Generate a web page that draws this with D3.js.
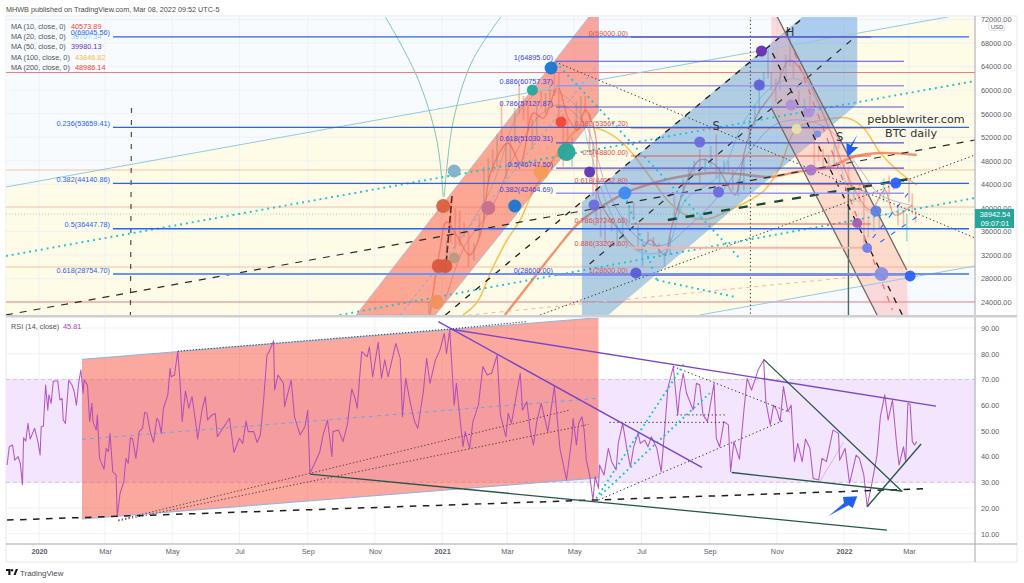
<!DOCTYPE html>
<html><head><meta charset="utf-8">
<script src="https://cdn.jsdelivr.net/npm/d3@7"></script>
<style>html,body{margin:0;padding:0;background:#fff}svg{display:block}text{font-family:"Liberation Sans",sans-serif}</style>
</head><body><svg id="c" width="1024" height="583"></svg>
<script>
// ---------- data: days since 2020-01-01, prices in USD, RSI in points ----------
const priceTicks=[24000,28000,32000,36000,40000,44000,48000,52000,56000,60000,64000,68000,72000];
const rsiTicks=[10,20,30,40,50,60,70,80,90];
const timeTicks=["2020-01-01","2020-03-01","2020-05-01","2020-07-01","2020-09-01","2020-11-01","2021-01-01","2021-03-01","2021-05-01","2021-07-01","2021-09-01","2021-11-01","2022-01-01","2022-03-01"];
const maLegendNames=["MA (10, close, 0)","MA (20, close, 0)","MA (50, close, 0)","MA (100, close, 0)","MA (200, close, 0)"];
const maLegendValues=["40573.89","39707.34","39980.13","43846.82","48986.14"];
const fibALabels=["0(69045.56)","0.236(53659.41)","0.382(44140.86)","0.5(36447.78)","0.618(28754.70)"];
const fibA=[69045.56,53659.41,44140.86,36447.78,28754.70];
const fibBLabels=["1(64895.00)","0.886(60757.37)","0.786(57127.87)","0.618(51030.31)","0.5(46747.50)","0.382(42464.69)","0(28600.00)"];
const fibB=[64895,60757.37,57127.87,51030.31,46747.5,42464.69,28600];
const fibCLabels=["0(69000.00)","0.382(53567.20)","0.5(48800.00)","0.618(44032.80)","0.786(37245.60)","0.886(33205.60)","1(28600.00)"];
const fibC=[69000,53567.2,48800,44032.8,37245.6,33205.6,28600];
const paleLevels=[46430,40144,29950];
const redLevels=[62995,24003];
const lastPrice=38942.54;

const candleDays=[350,354,360,366,370,374,378,382,386,390,395,400,404,408,412,416,420,424,428,432,436,440,444,448,452,456,460,464,468,472,476,480,484,488,492,496,500,503,506,510,514,520,525,530,536,540,544,548,553,558,563,568,573,577,581,585,590,595,600,605,610,615,618,622,626,630,635,640,645,650,654,658,662,665,669,673,678,682,685,690,695,700,704,708,712,717,722,726,731,735,740,745,749,753,758,763,767,772,776,780,785,788,790,793,796];
const candleLows=[19500,22000,23000,28900,30000,34000,33000,33500,35000,30000,31000,35000,38000,44000,46000,47000,52000,45000,47000,51000,56000,55000,53000,50000,52000,57000,56000,58000,59000,55000,47000,48000,47000,53000,55000,56000,49000,42000,37000,35000,34000,36000,33500,35000,37000,38000,33000,30000,34000,33000,32000,30000,32000,38000,39000,42000,44000,46000,44000,46000,47000,45000,44000,46000,46000,43000,42000,43000,50000,54000,56000,60000,62000,60000,58000,60000,62000,64000,62000,58000,55000,56000,46000,48000,46500,46500,47000,50000,46500,41000,41000,41000,34000,35000,36000,36500,41000,42000,43000,37000,37000,34300,41000,39000,37500];
const candleHighs=[21500,24000,25000,30000,34500,41000,40000,39500,37500,36000,34000,38500,47000,48500,50000,52500,58000,51000,52000,57000,61000,59000,58000,55000,58000,60000,59500,61000,64895,63000,56000,55000,52000,58000,59000,59000,56000,51000,44000,40000,38500,38000,37000,38500,40500,41000,37000,34000,36000,35000,34000,32500,35000,42000,41000,45000,47000,48000,50000,48500,50500,52500,47000,48000,48000,46500,45000,48500,55000,57500,62000,63000,67000,63000,62000,64000,66000,69000,65000,60000,58500,59000,53500,51000,50000,49000,51000,51500,48000,47000,43500,44000,43000,38000,38500,39000,45000,45500,44500,40500,39500,39000,45000,42500,39500];

const ma10=[[355,21794],[364,32838],[370,37595],[380,35046],[391,31989],[402,36236],[410,45920],[426,51017],[437,47619],[449,56114],[458,55265],[471,60532],[480,55435],[489,53226],[496,56624],[505,52717],[509,41333],[523,37085],[546,32838],[555,34537],[568,31989],[575,37085],[600,48129],[614,47279],[623,44730],[632,42182],[641,49828],[652,55775],[668,60022],[682,65119],[700,60872],[718,53226],[736,44730],[755,39634],[768,43032],[777,38784],[793,40483]];
const ma20=[[382,34537],[410,43032],[437,56624],[459,60022],[487,57473],[500,49828],[518,39634],[541,32838],[568,32838],[587,41333],[618,45580],[641,54925],[668,60872],[691,61722],[718,53226],[736,43032],[759,38784],[786,39974]];
const ma50=[[369,24343],[387,33688],[410,39634],[432,48978],[455,55775],[473,57473],[496,54075],[505,49828],[518,42182],[546,34537],[568,33688],[591,37085],[618,42182],[646,49828],[668,54075],[691,54925],[718,53226],[746,46430],[764,42182],[791,40483]];
const ma100=[[385,21794],[398,24003],[411,29440],[425,34537],[437,37935],[449,43032],[455,44730],[473,49828],[491,53566],[509,53396],[530,51017],[555,45240],[573,40823],[591,38444],[607,38105],[627,39634],[646,41333],[659,43032],[673,46940],[688,53566],[712,54925],[734,55265],[748,53736],[764,49318],[779,46430],[797,43881]];
const ma200=[[423,21794],[443,26551],[467,32328],[491,37595],[516,40823],[539,43032],[576,45071],[609,45920],[636,45750],[664,45240],[688,46090],[718,46940],[739,48639],[764,49318],[797,48978]];

const bandPoly=[[-30,43542],[850,73274],[850,30120],[600,21794],[-30,21794]];
const bandTop=[[-30,43542],[850,73274]];
const bandBottom=[[600,21794],[850,30120]];
const redChannel=[[288,21794],[500,72595],[508,72595],[508,56284],[360,21794]];
const redCenter=[[328,21794],[507,64269]];
const blueChannel=[[493,40993],[694,72595],[743,72595],[743,57643],[517,21794],[493,21794]];
const pinkChannel=[[665,72595],[670,72595],[788,29440],[789,21794],[761,21794],[665,56964]];
const pinkUpper=[[670,72595],[788,29440]];
const pinkLower=[[665,56964],[761,21794]];
const pinkBlack=[[666,66308],[784,21794]];
const pinkRed=[[686,66308],[775,22644]];
const tealA=[[-30,31819],[850,61551]];
const tealB=[[273,21794],[850,41673]];
const tealC=[[469,64779],[635,31649]];
const tealD=[[532,42183],[561,27741]];
const tealE=[[561,27741],[632,24854]];
const dashLong=[[-30,21794],[850,51527]];
const dashThick=[[571,37935],[795,45071]];
const dashSteepA=[[369,21794],[696,72595]];
const dashSteepB=[[500,30460],[741,69027]];
const dottedDown=[[469,64779],[850,34877]];
const dottedUp=[[455,21794],[850,48978]];
const vDashed=[[84,56964],[83,21794]];
const vDotted=[[646,72595],[646,21794]];
const vGreen=[[735,21794],[735,43202],[747,43202]];
const paleDash=[[382,21625],[739,28251]];
const brownDash=[[375,42011],[369,29000]];
const blueDashA=[[757,34877],[793,43372]];
const blueDashB=[[764,34197],[797,38444]];
const arcLeft=[[314,72595],[343,62400],[361,51700],[367,41900]];
const arcRight=[[420,72595],[393,64800],[376,54600],[368,41900]];
const priceArrow=[[743,52376],[738,50338],[744,50338],[734,48639],[733,51017],[737,50678]];
const bubbles=[[377,46260],[367,40313],[377,31479],[363,30120],[369,30120],[361,24003],[408,39974],[432,40313],[465,63760],[448,60022],[474,54585],[479,49488],[456,46090],[500,46090],[504,40483],[532,42523],[542,28931],[600,51187],[617,42692],[656,66648],[654,60872],[683,57473],[699,56284],[707,52547],[701,46430],[688,53396],[778,44221],[760,39464],[743,37426],[752,33178],[765,28761],[791,28421]];
const bubbleR=[6.5,7,5.5,7,7,7,7,6.5,6.5,5.5,5.5,9,7.5,5.5,5.5,6.5,5.5,5.5,5.5,5.5,5.5,5.5,5.5,3.5,5.5,5,5.5,5.5,5,5,7,5.5];
const bubbleC=["#7fb0c8","#d9603f","#b89a80","#d9583c","#d9583c","#f0935a","#c8708a","#1976d2","#1976d2","#26a69a","#f44336","#26a69a","#f49a5a","#5e35b1","#6a6adf","#3d8af0","#5c5cd6","#6a6adf","#6a6adf","#6a2cb0","#6060d8","#b090d8","#b090d8","#8090e0","#a878c8","#eadfae","#2962ff","#5c80e0","#a060b0","#7080e8","#8890e0","#2962ff"];
const labelsHS=[["H",682,69876],["S",615,53736],["S",727,51867]];

const rsiDays=[-29,-27,-24,-22,-19,-17,-15,-14,-12,-10,-8,-4,-1,1,2,4,6,8,9,11,13,17,19,21,22,24,27,30,32,34,36,38,40,41,44,46,48,49,52,53,55,59,61,63,64.5,67,70,71,73.6,77,79,81,83,85,88,91,94,96,98,101,104,107,109,111,113,117,119,120,123,126,128,130,133,136,139,143,144,148,151,153,157,160,162,167,173,177,182,185,188,190,195,198,201,204,207,209,213,214,217,222,223,229,232,237,241.5,244,246,251,255,258,262,266,267,272,276,280,284,287,289,293,298,300,303,308,311,314,317,324,328,330,333,337,341,344,349,352,355,360,364,368,370,373,377,379,381,385,387,391,394,399,403,407,411,416,419,424,426,429,434,437,439,443,446,449,452,456,462,468,470,473,479,484,485,488,490,493,495,497,500,503,505,508,509,513,517,520,524,526,530,534,537,540,544,546,550,553,556,561,565,568,571,576,580,582,585,588,594,597,600,603,607,613,615,618,622,626,628,631,636,640,643,647,651,653,658,660,664,667,670,673,676,680,683,685,686,689,693,696,700,703,708,711,715,721,726,727,732,736,742,745,749,752,756,761,764,768,771,775,779,781,785,787,789,791,793,795,797];
const rsiValues=[36.7,43.8,44.5,38.6,40,37.4,29,47.3,46,52.9,46.8,51,45.8,40.6,51.6,51.9,67.8,58,64,60.7,69.4,69.4,62,62.6,54.2,52.9,69.8,67.8,65.2,60,68.5,73.7,64.6,69.8,67.8,53.6,60.7,53.6,50.3,56.2,39.3,35.1,43.2,41.9,49,34.1,32.8,16.6,25.7,30.2,39.3,37.4,47.3,46.8,39.3,49.7,51,57.2,56.8,49.7,45.5,54.9,53.6,49,58.8,64,74.3,71,71.7,80.8,69.8,53.6,65.5,58.8,63.3,51,46.8,58,63.3,54.2,56.2,56.8,47.7,51,54.9,41.6,47.1,45.1,53.8,49.7,49.7,45.5,48.4,62,79.5,80.8,85,65.9,71.7,68.5,59.4,69.8,55.5,48.4,51.6,58,33.5,38,41.9,48.4,54.2,40,49.7,50.3,45.8,52.3,66.3,62.6,58.8,80.8,78.8,82.7,71,84.4,70.4,77.6,71,84,78.2,55.5,70.4,61.3,53.6,51,65.2,78.2,68.5,77.6,81.4,87.9,80.1,89.2,60,68.5,60,43.8,49.7,43.2,53.6,60,75,71.7,72.4,79.5,56.2,47.7,56.8,52.9,65.2,72.4,58,61.3,50.3,44.5,53.6,60.7,49.7,67.2,57.5,43.2,30.9,47.7,54.9,44.5,52.9,55.5,50.3,38.6,32.8,23.1,32.2,27.6,36.7,32.8,43.2,38,34.8,45.1,52.9,42.6,36,43.8,49,45.1,46.4,43.8,47.7,43.2,34.1,49.7,66.5,75,56.2,65.2,72.4,64.6,58.1,68.5,67.8,56.2,53.6,68.5,47.1,43.8,53.6,52.3,34.1,45.8,39,57.5,70.4,65.9,71,73.7,77.6,61.3,52.3,60,58.1,53.6,67.2,57.5,60,45.1,38,45.1,38,46.8,43.2,31.5,30.9,39.3,38,50.3,49,38.6,43.2,29.6,40.6,39.3,32.8,20.5,28.9,40.6,55.5,64,54.2,62,43.8,36.7,43.8,38,60.7,60.3,45.8,44.5,45.81];
const rsiRedChannel=[[39,77.8],[508,94],[508,31.7],[39,15.7]];
const rsiChanTop=[[39,77.8],[508,94]];
const rsiChanBottom=[[39,15.7],[508,31.7]];
const rsiCenter=[[39,46.7],[506,62.6]];
const rsiDashed=[[-29,15.3],[805,27.5]];
const rsiDotTop=[[126,81],[373,89.6],[443,92.5]];
const rsiDotA=[[72,15.3],[482,58.1]];
const rsiDotB=[[72,15],[499,52.5]];
const rsiGreenLines=[[[246,33.2],[770,11.4]],[[629,33.8],[783,26.6]],[[658,77.8],[784,26.3]],[[752,20.5],[801,44.9]]];
const rsiPurpleLines=[[[373,89.6],[814.5,59.6]],[[362.6,92.5],[602,35.8]]];
const rsiDotted=[[[576,75],[682,57.2]],[[508,23.1],[677,54.2]],[[579,56.2],[624,56.2]],[[518,53.3],[624,53.3]]];
const rsiTeal=[[[506,23.7],[587,76.9]],[[510,25],[609,64.6]]];
const rsiFaint=[[709,30.2],[730.4,45.5]];
const rsiArrow=[[743,24.6],[739,20],[735,21.1],[717,16.9],[731,21.9],[730,24.3]];
if(rsiDays.length!==rsiValues.length)throw new Error("rsi mismatch "+rsiDays.length+" "+rsiValues.length);
if(candleDays.length!==candleLows.length||candleDays.length!==candleHighs.length)throw new Error("candle mismatch");

// ---------- scales ----------
const epoch=new Date(Date.UTC(2020,0,1));
const toDate=d=>new Date(+epoch+d*864e5);
const L=6,R=975,PT=17,PB=315,RT=318,RB=544,FS=7.3;
const x=d3.scaleUtc().domain([toDate(0),new Date("2022-03-01T00:00:00Z")]).range([39,909]);
const yP=d3.scaleLinear().domain([24000,72000]).range([302,19.5]);
const yR=d3.scaleLinear().domain([10,90]).range([533.7,328]);

const svg=d3.select("#c");
const defs=svg.append("defs");
defs.append("clipPath").attr("id","cp").append("rect").attr("x",L).attr("y",PT).attr("width",R-L).attr("height",PB-PT);
defs.append("clipPath").attr("id","cr").append("rect").attr("x",L).attr("y",RT).attr("width",R-L).attr("height",RB-RT);

const lineP=d3.line().x(d=>x(toDate(d[0]))).y(d=>yP(d[1]));
const lineR=d3.line().x(d=>x(toDate(d[0]))).y(d=>yR(d[1]));

// ---------- frame and text ----------
svg.append("text").attr("x",6).attr("y",12).attr("font-size",7.25).attr("fill","#4a4a4a").text("MHWB published on TradingView.com, Mar 08, 2022 09:52 UTC-5");
svg.append("rect").attr("x",6).attr("y",16).attr("width",1011).attr("height",546).attr("fill","#fff").attr("stroke","#e6e9f0");

// ---------- top pane ----------
const pane=svg.append("g").attr("clip-path","url(#cp)");
pane.append("rect").attr("x",L).attr("y",PT).attr("width",R-L).attr("height",PB-PT).attr("fill","#f7fbfe");
pane.append("path").attr("d",lineP(bandPoly)+"Z").attr("fill","#fefce6");
const grid=pane.append("g").attr("stroke","#eef1f6").attr("stroke-width",1);
grid.selectAll("line.h").data(priceTicks).join("line").attr("class","h").attr("x1",L).attr("x2",R).attr("y1",d=>yP(d)).attr("y2",d=>yP(d));
grid.selectAll("line.v").data(timeTicks).join("line").attr("class","v").attr("y1",PT).attr("y2",PB).attr("x1",d=>x(new Date(d))).attr("x2",d=>x(new Date(d)));
// horizontal levels
pane.selectAll("line.pale").data(paleLevels).join("line").attr("class","pale").attr("x1",L).attr("x2",R).attr("y1",d=>yP(d)).attr("y2",d=>yP(d)).attr("stroke","#f6c2a8").attr("stroke-width",1.1);
pane.selectAll("line.red").data(redLevels).join("line").attr("class","red").attr("x1",L).attr("x2",R).attr("y1",d=>yP(d)).attr("y2",d=>yP(d)).attr("stroke","#ea8080").attr("stroke-width",1);
pane.append("line").attr("x1",L).attr("x2",R).attr("y1",yP(lastPrice)).attr("y2",yP(lastPrice)).attr("stroke","#26a69a").attr("stroke-width",.8).attr("stroke-dasharray","1 2").attr("opacity",.6);

// candles
pane.selectAll("line.cd").data(candleDays).join("line").attr("class","cd")
 .attr("x1",d=>x(toDate(d))).attr("x2",d=>x(toDate(d)))
 .attr("y1",(d,i)=>yP(candleLows[i])).attr("y2",(d,i)=>yP(candleHighs[i]))
 .attr("stroke",(d,i)=>(i<candleHighs.length-1&&candleHighs[i+1]>=candleHighs[i])?"#26a69a":"#ef5350")
 .attr("stroke-width",1.7).attr("opacity",.36);

// moving averages
const curve=d3.curveCatmullRom.alpha(.5);
const maLine=d3.line().x(d=>x(toDate(d[0]))).y(d=>yP(d[1])).curve(curve);
pane.append("path").attr("d",maLine(ma50)).attr("fill","none").attr("stroke","#8e6fc9").attr("stroke-width",1).attr("opacity",.5);
pane.append("path").attr("d",maLine(ma20)).attr("fill","none").attr("stroke","#6fd2e6").attr("stroke-width",1).attr("opacity",.7);
pane.append("path").attr("d",maLine(ma100)).attr("fill","none").attr("stroke","#f9c25a").attr("stroke-width",1.6);
pane.append("path").attr("d",maLine(ma200)).attr("fill","none").attr("stroke","#f0805a").attr("stroke-width",2.4).attr("opacity",.85);
pane.append("path").attr("d",maLine(ma10)).attr("fill","none").attr("stroke","#ee5f45").attr("stroke-width",1.4).attr("opacity",.6);

// channels
pane.append("path").attr("d",lineP(redChannel)+"Z").attr("fill","rgba(247,91,73,.53)").attr("stroke","#9ab0d6").attr("stroke-width",.6);
pane.append("path").attr("d",lineP(blueChannel)+"Z").attr("fill","rgba(60,135,220,.4)");
pane.append("path").attr("d",lineP(pinkChannel)+"Z").attr("fill","rgba(255,150,150,.33)");

// trend lines
const seg=(g,pts,col,w,dash,op)=>g.append("path").attr("d",lineP(pts)).attr("fill","none").attr("stroke",col).attr("stroke-width",w).attr("stroke-dasharray",dash||null).attr("opacity",op||1);
seg(pane,bandTop,"#93c9e6",1);seg(pane,bandBottom,"#93c9e6",1);
seg(pane,redCenter,"#7ea6e0",.9,"3 3");
pane.append("path").attr("d",maLine(arcLeft)).attr("fill","none").attr("stroke","#86c4b4").attr("stroke-width",1);
pane.append("path").attr("d",maLine(arcRight)).attr("fill","none").attr("stroke","#86c4b4").attr("stroke-width",1);
seg(pane,vDashed,"#222",1.2,"5 7",.8);
seg(pane,vDotted,"#333",1,"1.3 2.6");
seg(pane,vGreen,"#4a6a64",1.4);
seg(pane,paleDash,"#f7b59c",1,"4 4");
seg(pane,dashLong,"#2b2b2b",1.2,"7 7");
seg(pane,dashThick,"#174a3c",2.4,"9 9");
seg(pane,dashSteepA,"#1b1b1b",1.3,"6 7");
seg(pane,dashSteepB,"#2b2b2b",1.2,"6 7");
seg(pane,dottedDown,"#333",1,"1.3 2.6");
seg(pane,dottedUp,"#333",1,"1.3 2.6");
[tealA,tealB,tealC,tealD,tealE].forEach(p=>seg(pane,p,"#19c3d6",1.9,"1.9 4"));
seg(pane,brownDash,"#5e2a1e",1.6,"7 3");
seg(pane,blueDashA,"#2962ff",1.1,"5 8");
seg(pane,blueDashB,"#2962ff",1.1,"5 8");
seg(pane,pinkBlack,"#1c1c1c",1.3,"6 7");
seg(pane,pinkRed,"#f07070",1.3,"6 7");
seg(pane,pinkUpper,"#6e6868",1.3);seg(pane,pinkLower,"#6e6868",1.3);

// fibonacci levels
const xA0=113,xA1=969,xB0=556,xB1=904,xC0=631,xC1=871;
fibC.forEach((v,i)=>pane.append("line").attr("x1",xC0).attr("x2",xC1).attr("y1",yP(v)).attr("y2",yP(v)).attr("stroke",i==5?"#f5b3a8":"#e25a5a").attr("stroke-width",i==5?2:1.1));
fibB.forEach((v,i)=>pane.append("line").attr("x1",xB0).attr("x2",xB1).attr("y1",yP(v)).attr("y2",yP(v)).attr("stroke",(i==5||i==1)?"#9a96ee":"#5050e4").attr("stroke-width",(i==5||i==1)?1.5:1.1));
fibA.forEach((v,i)=>pane.append("line").attr("x1",xA0).attr("x2",xA1).attr("y1",yP(v)).attr("y2",yP(v)).attr("stroke",i==4?"#6f93f5":"#2962f5").attr("stroke-width",i==4?2.2:1.3));

// bubbles
pane.selectAll("circle.b").data(bubbles).join("circle").attr("class","b").attr("cx",d=>x(toDate(d[0]))).attr("cy",d=>yP(d[1])).attr("r",(d,i)=>bubbleR[i]).attr("fill",(d,i)=>bubbleC[i]).attr("opacity",.95);
pane.append("path").attr("d",lineP(priceArrow)+"Z").attr("fill","#1f5cf0");

pane.selectAll("text.hs").data(labelsHS).join("text").attr("class","hs").attr("x",d=>x(toDate(d[1]))).attr("y",d=>yP(d[2])).attr("text-anchor","middle").attr("dominant-baseline","middle").attr("font-size",11.5).attr("fill","#333").style("font-family","DejaVu Sans").text(d=>d[0]);

// MA legend (below the fib labels, which overprint it)
const maCols=["#f44336","#80d4f0","#5e35b1","#ffb74d","#f44336"];
maLegendNames.forEach((n,i)=>{
 const yy=28.6+i*10.4;
 svg.append("text").attr("x",11).attr("y",yy).attr("font-size",FS).attr("fill","#555").text(n);
 svg.append("text").attr("x",[71,71,71,75,75][i]).attr("y",yy).attr("font-size",FS).attr("fill",maCols[i]).text(maLegendValues[i]);
});

const fibText=(vals,labs,ex,col)=>vals.forEach((v,i)=>svg.append("text").attr("x",ex).attr("y",yP(v)-1.5).attr("text-anchor","end").attr("font-size",FS).attr("fill",col).text(labs[i]));
fibText(fibA,fibALabels,110,"#2962f5");
fibText(fibB,fibBLabels,553,"#3d3de0");
fibText(fibC,fibCLabels,628,"#e04f4f");

svg.append("text").attr("x",916).attr("y",123).attr("text-anchor","middle").attr("font-size",11.2).attr("fill","#333").style("font-family","DejaVu Sans").text("pebblewriter.com");
svg.append("text").attr("x",911).attr("y",137).attr("text-anchor","middle").attr("font-size",11.2).attr("fill","#333").style("font-family","DejaVu Sans").text("BTC daily");

// ---------- RSI pane ----------
const rp=svg.append("g").attr("clip-path","url(#cr)");
const gr=rp.append("g").attr("stroke","#eef1f6");
gr.selectAll("line.h").data(rsiTicks).join("line").attr("class","h").attr("x1",L).attr("x2",R).attr("y1",d=>yR(d)).attr("y2",d=>yR(d));
gr.selectAll("line.v").data(timeTicks).join("line").attr("class","v").attr("y1",RT).attr("y2",RB).attr("x1",d=>x(new Date(d))).attr("x2",d=>x(new Date(d)));
rp.append("rect").attr("x",L).attr("width",R-L).attr("y",yR(70)).attr("height",yR(30)-yR(70)).attr("fill","#f3e5fd");
[70,30].forEach(v=>rp.append("line").attr("x1",L).attr("x2",R).attr("y1",yR(v)).attr("y2",yR(v)).attr("stroke","#c9b6d4").attr("stroke-width",.8).attr("stroke-dasharray","4 3"));
rp.append("path").attr("d",lineR(rsiRedChannel)+"Z").attr("fill","rgba(247,91,73,.53)");
const segR=(pts,col,w,dash,op)=>rp.append("path").attr("d",lineR(pts)).attr("fill","none").attr("stroke",col).attr("stroke-width",w).attr("stroke-dasharray",dash||null).attr("opacity",op||1);
segR(rsiChanTop,"#8fb2e2",1);segR(rsiChanBottom,"#8fb2e2",1);
segR(rsiCenter,"#6aa8ec",1,"4 4");
segR(rsiDotTop,"#333",1,"1.2 1.8");
segR(rsiDotA,"#5a3a3a",1,"1.3 2.2");segR(rsiDotB,"#5a3a3a",1,"1.3 2.2");
segR(rsiFaint,"#cdbfd8",1);
rp.append("path").attr("d",lineR(rsiDays.map((d,i)=>[d,rsiValues[i]]))).attr("fill","none").attr("stroke","#ab47bc").attr("stroke-width",1.05).attr("stroke-linejoin","round").attr("opacity",.9);
segR(rsiDashed,"#1e1e1e",1.5,"6.5 6.5");
rsiDotted.forEach(p=>segR(p,"#333",1,"1.3 2.6"));
rsiTeal.forEach(p=>segR(p,"#19c3d6",1.9,"1.9 3.2"));
rsiPurpleLines.forEach(p=>segR(p,"#7b45c4",1.4));
rsiGreenLines.forEach(p=>segR(p,"#25564b",1.3));
rp.append("path").attr("d",lineR(rsiArrow)+"Z").attr("fill","#2460f0");
svg.append("text").attr("x",11).attr("y",329).attr("font-size",FS).attr("fill","#555").text("RSI (14, close)");
svg.append("text").attr("x",63).attr("y",329).attr("font-size",FS).attr("fill","#ab47bc").text("45.81");

// ---------- axes ----------
const axP=svg.append("g").attr("transform",`translate(${R},0)`).call(d3.axisRight(yP).tickValues(priceTicks).tickSize(0).tickPadding(6).tickFormat(d3.format(".2f")));
const axR=svg.append("g").attr("transform",`translate(${R},0)`).call(d3.axisRight(yR).tickValues(rsiTicks).tickSize(0).tickPadding(6).tickFormat(d3.format(".2f")));
const axT=svg.append("g").attr("transform",`translate(0,${RB})`).call(d3.axisBottom(x).tickValues(timeTicks.map(d=>new Date(d))).tickSize(0).tickPadding(5).tickFormat(d=>d.getUTCMonth()==0?d3.utcFormat("%Y")(d):d3.utcFormat("%b")(d)));
[axP,axR,axT].forEach(a=>{a.select(".domain").remove();a.selectAll("text").attr("fill","#5d606b").attr("font-size",FS).style("font-family","Liberation Sans");});
axT.selectAll("text").filter(d=>d.getUTCMonth()==0).attr("font-weight","bold");
svg.append("line").attr("x1",R).attr("x2",R).attr("y1",16).attr("y2",562).attr("stroke","#a3a6af");
svg.append("rect").attr("x",6).attr("y",315).attr("width",1011).attr("height",2.5).attr("fill","#cfcfd3");
svg.append("line").attr("x1",6).attr("x2",1017).attr("y1",RB).attr("y2",RB).attr("stroke","#a3a6af");

// USD badge and price tag
svg.append("rect").attr("x",989).attr("y",22).attr("width",16).attr("height",8.5).attr("rx",2).attr("fill","#fff").attr("stroke","#d8d8dc").attr("stroke-width",.7);
svg.append("text").attr("x",997).attr("y",28.7).attr("text-anchor","middle").attr("font-size",6).attr("fill","#555").text("USD");
svg.append("rect").attr("x",R).attr("y",yP(lastPrice)-5).attr("width",39).attr("height",19).attr("fill","#26a69a");
svg.append("text").attr("x",995).attr("y",216.6).attr("text-anchor","middle").attr("font-size",FS).attr("fill","#fff").text(lastPrice.toFixed(2));
svg.append("text").attr("x",995).attr("y",225.6).attr("text-anchor","middle").attr("font-size",FS).attr("fill","#fff").text("09:07:01");

// logo
const lg=svg.append("g").attr("transform","translate(6,569)").attr("fill","#131722");
lg.append("path").attr("d","M0 0H4.5V6H2.3V2H0Z");
lg.append("circle").attr("cx",6).attr("cy",1.2).attr("r",1.2);
lg.append("path").attr("d","M7.5 6L9.8 0H12L9.6 6Z");
svg.append("text").attr("x",20).attr("y",575.5).attr("font-size",7.9).attr("fill","#4a4a4a").text("TradingView");
</script></body></html>
